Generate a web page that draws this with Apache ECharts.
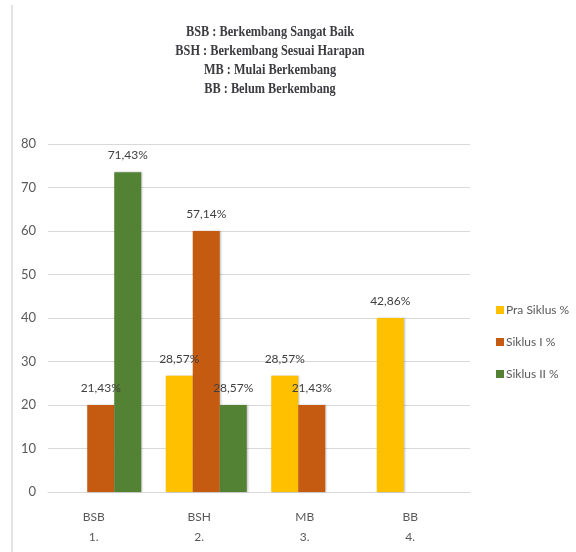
<!DOCTYPE html>
<html>
<head>
<meta charset="utf-8">
<script src="https://cdn.jsdelivr.net/npm/echarts@6/dist/echarts.min.js"></script>
<style>
html,body{margin:0;padding:0;background:#fff;}
#chart{width:576px;height:552px;}
</style>
</head>
<body>
<div id="chart"></div>
<script>
// Data
var categories = ['BSB\n1.', 'BSH\n2.', 'MB\n3.', 'BB\n4.'];
var seriesNames = ['Pra Siklus %', 'Siklus I %', 'Siklus II %'];
var praSiklus = [null, 26.7, 26.7, 40];
var siklus1 = [20, 60, 20, null];
var siklus2 = [73.5, 20, null, null];
var praLabels = ['', '28,57%', '28,57%', '42,86%'];
var s1Labels = ['21,43%', '57,14%', '21,43%', ''];
var s2Labels = ['71,43%', '28,57%', '', ''];
var yTicks = {min: 0, max: 80, interval: 10};
var titleLines = ['BSB : Berkembang Sangat Baik', 'BSH : Berkembang Sesuai Harapan', 'MB : Mulai Berkembang', 'BB : Belum Berkembang'];

var colors = ['#FFC000', '#C55A11', '#548235'];
var chart = echarts.init(document.getElementById('chart'), null, {renderer: 'canvas'});

function mkSeries(name, data, labels, color) {
  return {
    name: name,
    type: 'bar',
    data: data,
    barWidth: 27,
    barGap: '0%',
    itemStyle: {color: color, shadowColor: 'rgba(0,0,0,0.25)', shadowBlur: 2, shadowOffsetX: 1, shadowOffsetY: 0},
    label: {
      show: true,
      position: 'top',
      distance: 11,
      fontFamily: 'Lato',
      fontSize: 12,
      color: '#404040',
      formatter: function (p) { return labels[p.dataIndex]; }
    }
  };
}

var graphics = [
  {type: 'rect', shape: {x: 11, y: 5, width: 2, height: 547}, style: {fill: '#e3e3e3'}}
];
titleLines.forEach(function (t, i) {
  graphics.push({
    type: 'text', x: 270, y: 32 + i * 19, scaleX: 0.82, scaleY: 1,
    style: {text: t, textAlign: 'center', textVerticalAlign: 'middle',
      font: 'bold 15px "Liberation Serif"', fill: '#3b3b40'}
  });
});

var option = {
  animation: false,
  backgroundColor: '#fff',
  color: colors,
  graphic: graphics,
  legend: {
    orient: 'vertical',
    left: 491,
    top: 299,
    itemWidth: 8,
    itemHeight: 8,
    itemGap: 20,
    icon: 'rect',
    textStyle: {fontFamily: 'Lato', fontSize: 12, color: '#595959', padding: [0, 0, 0, -3]},
    data: seriesNames
  },
  grid: {left: 48, right: 106, top: 144, bottom: 60, containLabel: false},
  xAxis: {
    type: 'category',
    data: categories,
    axisLine: {lineStyle: {color: '#d9d9d9', width: 1}},
    axisTick: {show: false},
    axisLabel: {fontFamily: 'Lato', fontSize: 12, color: '#595959', lineHeight: 20, margin: 15, padding: [0, 14, 0, 0]}
  },
  yAxis: {
    type: 'value',
    min: yTicks.min,
    max: yTicks.max,
    interval: yTicks.interval,
    axisLine: {show: false},
    axisTick: {show: false},
    splitLine: {lineStyle: {color: '#d9d9d9', width: 1}},
    axisLabel: {fontFamily: 'Lato', fontSize: 13, color: '#595959', margin: 12}
  },
  series: [
    mkSeries(seriesNames[0], praSiklus, praLabels, colors[0]),
    mkSeries(seriesNames[1], siklus1, s1Labels, colors[1]),
    mkSeries(seriesNames[2], siklus2, s2Labels, colors[2])
  ]
};
chart.setOption(option);
</script>
</body>
</html>
